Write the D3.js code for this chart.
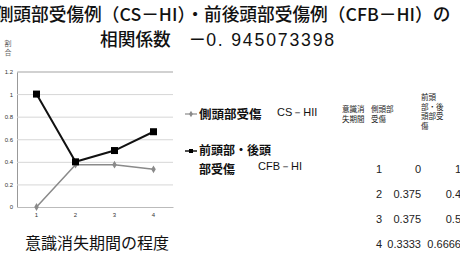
<!DOCTYPE html>
<html>
<head>
<meta charset="utf-8">
<script src="https://cdn.jsdelivr.net/npm/d3@7"></script>
<style>
  body { margin: 0; background: #fff; }
  svg { display: block; font-family: "Noto Sans CJK JP", "Liberation Sans", sans-serif; }
</style>
</head>
<body>
<svg id="chart" width="460" height="256"></svg>
<script>
// data
const periods = ["1", "2", "3", "4"];
const csValues = [0, 0.375, 0.375, 0.3333];
const cfbValues = [1, 0.4, 0.5, 0.6666];
const csLabels = ["0", "0.375", "0.375", "0.3333"];
const cfbLabels = ["1", "0.4", "0.5", "0.6666"];
const yTicks = [0, 0.2, 0.4, 0.6, 0.8, 1, 1.2];

const svg = d3.select("#chart");

// title
svg.append("text")
    .attr("x", 223).attr("y", 21)
    .attr("text-anchor", "middle")
    .attr("font-size", 17.7)
    .attr("font-weight", 500)
    .attr("fill", "#111")
    .text("側頭部受傷例（CS－HI）・前後頭部受傷例（CFB－HI）の");
const t2 = svg.append("text")
    .attr("x", 218).attr("y", 46)
    .attr("text-anchor", "middle")
    .attr("font-size", 17.7)
    .attr("font-weight", 500)
    .attr("fill", "#111");
t2.append("tspan").text("相関係数　－");
t2.append("tspan")
    .attr("font-family", "Liberation Sans, Arial, sans-serif")
    .attr("font-weight", "normal")
    .attr("letter-spacing", 1.8)
    .text("0. 945073398");

// y axis label (small, vertical)
const yl = svg.append("text")
    .attr("font-size", 7).attr("fill", "#666")
    .attr("text-anchor", "middle");
yl.append("tspan").attr("x", 8).attr("y", 46).text("割");
yl.append("tspan").attr("x", 8).attr("y", 55).text("合");

// scales
const xScale = d3.scaleBand().domain(periods).range([17, 173]);
const yScale = d3.scaleLinear().domain([0, 1.2]).range([207, 71.5]);

// grid
const yAxis = d3.axisLeft(yScale)
    .tickValues(yTicks)
    .tickSize(-(173 - 17))
    .tickPadding(4)
    .tickFormat(d => d3.format("")(d));
const yAxisG = svg.append("g")
    .attr("transform", "translate(17,0)")
    .call(yAxis);
yAxisG.select(".domain").attr("stroke", "#999");
yAxisG.selectAll(".tick line").attr("stroke", "#d6d6d6");
yAxisG.selectAll(".tick text")
    .attr("font-family", "Liberation Sans, Arial, sans-serif")
    .attr("font-size", 6).attr("fill", "#333");

const xAxis = d3.axisBottom(xScale).tickSize(0).tickPadding(6);
const xAxisG = svg.append("g")
    .attr("transform", "translate(0,207)")
    .call(xAxis);
xAxisG.select(".domain").attr("stroke", "#bbb");
xAxisG.selectAll(".tick text")
    .attr("font-family", "Liberation Sans, Arial, sans-serif")
    .attr("font-size", 6).attr("fill", "#333");

// x axis title
svg.append("text")
    .attr("x", 97).attr("y", 249)
    .attr("text-anchor", "middle")
    .attr("font-size", 16)
    .attr("fill", "#111")
    .text("意識消失期間の程度");

const cx = (d, i) => xScale(periods[i]) + xScale.bandwidth() / 2;
const line = d3.line().x(cx).y(d => yScale(d));

// CS-HI gray line
svg.append("path")
    .datum(csValues)
    .attr("d", line)
    .attr("fill", "none")
    .attr("stroke", "#8a8a8a")
    .attr("stroke-width", 1.5);
const diamond = d3.symbol().type(d3.symbolDiamond).size(18);
svg.selectAll(".cs-pt")
    .data(csValues)
    .join("path")
    .attr("class", "cs-pt")
    .attr("d", diamond)
    .attr("transform", (d, i) => `translate(${cx(d, i)},${yScale(d)})`)
    .attr("fill", "#8a8a8a");

// CFB-HI black line
svg.append("path")
    .datum(cfbValues)
    .attr("d", line)
    .attr("fill", "none")
    .attr("stroke", "#111")
    .attr("stroke-width", 2);
svg.selectAll(".cfb-pt")
    .data(cfbValues)
    .join("rect")
    .attr("class", "cfb-pt")
    .attr("x", (d, i) => cx(d, i) - 3.5)
    .attr("y", d => yScale(d) - 3.5)
    .attr("width", 7).attr("height", 7)
    .attr("fill", "#000");

// legend
svg.append("line")
    .attr("x1", 185).attr("x2", 197).attr("y1", 114).attr("y2", 114)
    .attr("stroke", "#8a8a8a").attr("stroke-width", 1.2);
svg.append("path")
    .attr("d", d3.symbol().type(d3.symbolDiamond).size(12))
    .attr("transform", "translate(191,114)")
    .attr("fill", "#8a8a8a");
svg.append("text")
    .attr("x", 199).attr("y", 119)
    .attr("font-size", 12.5).attr("font-weight", "bold").attr("fill", "#111")
    .text("側頭部受傷");
svg.append("text")
    .attr("x", 277).attr("y", 116)
    .attr("font-family", "Liberation Sans, Arial, sans-serif")
    .attr("font-size", 11).attr("fill", "#111")
    .text("CS－HII");

svg.append("line")
    .attr("x1", 185).attr("x2", 197).attr("y1", 151).attr("y2", 151)
    .attr("stroke", "#111").attr("stroke-width", 1.5);
svg.append("rect")
    .attr("x", 189).attr("y", 149).attr("width", 4).attr("height", 4)
    .attr("fill", "#000");
svg.append("text")
    .attr("x", 199).attr("y", 155)
    .attr("font-size", 12).attr("font-weight", "bold").attr("fill", "#111")
    .text("前頭部・後頭");
svg.append("text")
    .attr("x", 199).attr("y", 173.5)
    .attr("font-size", 12).attr("font-weight", "bold").attr("fill", "#111")
    .text("部受傷");
svg.append("text")
    .attr("x", 258).attr("y", 170)
    .attr("font-family", "Liberation Sans, Arial, sans-serif")
    .attr("font-size", 11).attr("fill", "#111")
    .text("CFB－HI");

// table headers (tightly wrapped, as in the original)
const headers = [
    {x: 342, y: 112, lines: ["意識消", "失期間"]},
    {x: 371, y: 112, lines: ["側頭部", "受傷"]},
    {x: 421, y: 100, lines: ["前頭", "部・後", "頭部受", "傷"]}
];
headers.forEach(h => {
    h.lines.forEach((s, i) => {
        svg.append("text")
            .attr("x", h.x).attr("y", h.y + i * 9.5)
            .attr("font-size", 7.5).attr("fill", "#222")
            .text(s);
    });
});

// table rows
const rowY = d3.scalePoint().domain(periods).range([173, 248]);
const rows = svg.append("g")
    .attr("font-family", "Liberation Sans, Arial, sans-serif")
    .attr("font-size", 11).attr("fill", "#222")
    .attr("text-anchor", "end");
rows.selectAll(".c1").data(periods).join("text")
    .attr("x", 382).attr("y", d => rowY(d)).text(d => d);
rows.selectAll(".c2").data(csLabels).join("text")
    .attr("x", 421).attr("y", (d, i) => rowY(periods[i])).text(d => d);
rows.selectAll(".c3").data(cfbLabels).join("text")
    .attr("x", 461).attr("y", (d, i) => rowY(periods[i])).text(d => d);
</script>
</body>
</html>
